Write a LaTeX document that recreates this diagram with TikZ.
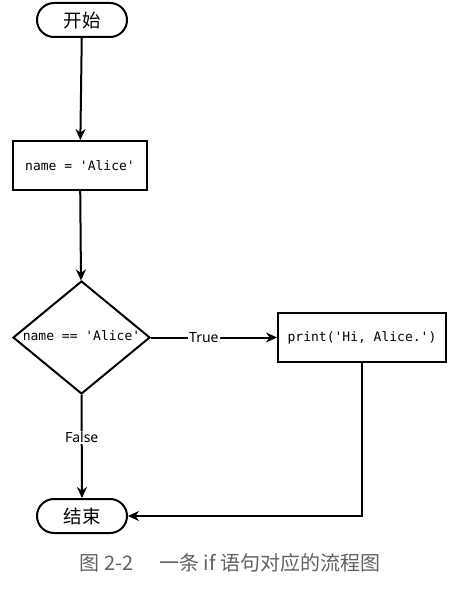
\documentclass[tikz,border=0pt]{standalone}
\usepackage{fontspec}
\setmainfont{Noto Sans}
\newfontfamily\cjk{Noto Sans CJK SC}
\newfontfamily\codefont{DejaVu Sans Mono}
\usetikzlibrary{shapes.geometric,shapes.misc,arrows.meta}
\begin{document}
\begin{tikzpicture}[x=1pt,y=-1pt,
  line width=2pt,
  term/.style={draw, rounded rectangle, minimum width=90pt, minimum height=34pt, inner sep=0pt, font=\cjk\fontsize{18.5}{18.5}\selectfont},
  procbox/.style={draw, rectangle, inner sep=0pt, font=\codefont\fontsize{13}{15}\selectfont},
  decision/.style={draw, diamond, inner sep=0pt, minimum width=137pt, minimum height=113pt},
  arr/.style={-{Stealth[length=11pt,width=10pt]}},
  lbl/.style={fill=white, inner sep=1pt, font=\fontsize{14}{16}\selectfont}]
\useasboundingbox (0,0) rectangle (454,591);
\node[term] (start) at (82,20) {开始};
\node[procbox, minimum width=134pt, minimum height=49pt] (assign) at (80,165.5) {name = 'Alice'};
\node[decision] (dec) at (81.5,337.5) {};
\node[font=\codefont\fontsize{13}{15}\selectfont, inner sep=0pt] (dectext) at (81.5,336) {name == 'Alice'};
\node[procbox, minimum width=168pt, minimum height=49pt] (print) at (362,337.5) {print('Hi, Alice.')};
\node[term] (end) at (82,516) {结束};
\coordinate (corner) at (362,516);
\draw[arr] (start) -- (assign);
\draw[arr] (assign) -- (dec);
\draw[arr] (dec.east) -- node[lbl, pos=0.42] (tl) {True} (print.west);
\draw[arr] (dec.south) -- node[lbl, pos=0.41] (fl) {False} (end.north);
\draw[arr] (print.south) -- (corner) -- (end.east);
\node[font=\cjk\fontsize{20}{22}\selectfont, text=black!62] (cap) at (230,563) {图 2-2\hspace{1.3em}一条 if 语句对应的流程图};
\end{tikzpicture}
\end{document}
